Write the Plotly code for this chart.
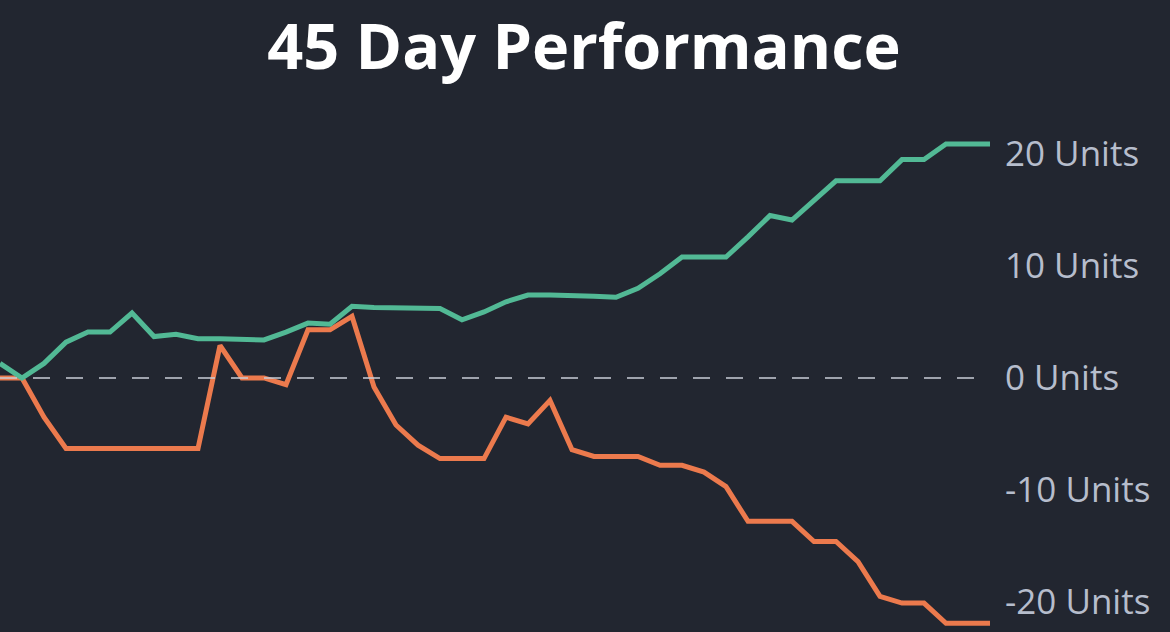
import plotly.graph_objects as go

days = list(range(46))
green_units = [1.3, 0.0, 1.3, 3.2, 4.1, 4.1, 5.8, 3.7, 3.9, 3.5,
               3.5, 3.4, 3.4, 4.1, 4.9, 4.8, 6.4, 6.3, 6.3, 6.3,
               6.2, 5.2, 5.9, 6.8, 7.4, 7.4, 7.4, 7.3, 7.2, 8.0,
               9.3, 10.8, 10.8, 10.8, 12.6, 14.5, 14.1, 15.9, 17.6, 17.6,
               17.6, 19.5, 19.5, 20.9, 20.9, 20.9]
orange_units = [0.0, 0.0, -3.5, -6.3, -6.3, -6.3, -6.3, -6.3, -6.3, -6.3,
                2.9, 0.0, 0.0, -0.6, 4.3, 4.3, 5.5, -0.8, -4.2, -6.0,
                -7.2, -7.2, -7.2, -3.5, -4.1, -2.0, -6.4, -7.0, -7.0, -7.0,
                -7.8, -7.8, -8.4, -9.7, -12.8, -12.8, -12.8, -14.6, -14.6, -16.4,
                -19.5, -20.1, -20.1, -21.9, -21.9, -21.9]
tick_values = [20, 10, 0, -10, -20]
tick_labels = ["20 Units", "10 Units", "0 Units", "-10 Units", "-20 Units"]

BG = "#222630"

fig = go.Figure()
fig.add_trace(go.Scatter(x=days, y=orange_units, mode="lines",
                         line=dict(color="#ec7a4d", width=5), hoverinfo="skip"))
fig.add_trace(go.Scatter(x=days, y=green_units, mode="lines",
                         line=dict(color="#52b995", width=5), hoverinfo="skip"))

fig.add_shape(type="line", xref="paper", x0=0, x1=1, yref="y", y0=0, y1=0,
              line=dict(color="#c9cdd6", width=1.5, dash="17px,16px"), layer="above")

fig.update_layout(
    width=1170, height=632,
    paper_bgcolor=BG, plot_bgcolor=BG,
    margin=dict(l=0, r=180, t=100, b=0),
    showlegend=False,
    title=dict(text="<b>45 Day Performance</b>", x=584 / 1170, xref="container", xanchor="center",
               y=1 - 47 / 632, yanchor="middle",
               font=dict(family="Open Sans", size=63, color="#ffffff")),
    xaxis=dict(range=[0, 45], visible=False, fixedrange=True),
    yaxis=dict(range=[-22.68, 24.82], side="right", tickvals=tick_values, ticktext=tick_labels,
               showgrid=False, zeroline=False, showline=False,
               ticks="", ticklabelstandoff=14,
               tickfont=dict(family="Open Sans", size=35, color="#b6bdcc")),
)

fig.write_html("out.html")
